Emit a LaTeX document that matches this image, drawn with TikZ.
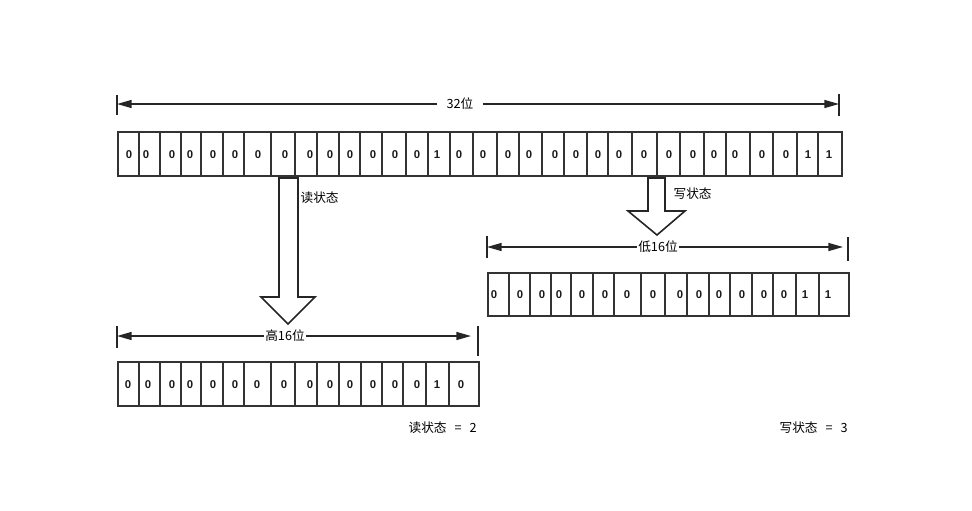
\documentclass[tikz,border=0pt]{standalone}
\usepackage{fontspec}
\setsansfont{Liberation Sans}
\newfontfamily\cjk{Noto Sans CJK SC}
\usetikzlibrary{arrows.meta}

\tikzset{
  bitcell/.style={draw=black!80, line width=1.3pt},
  bit/.style={font=\sffamily\bfseries\fontsize{8.5}{8.5}\selectfont, text=black!90, inner sep=0pt},
  lbl/.style={font=\cjk\fontsize{9.5}{10}\selectfont, text=black, inner sep=1pt},
  dim/.style={draw=black!85, line width=1.1pt, -{Triangle[length=11pt,width=6pt]}},
  tick/.style={draw=black!85, line width=1.1pt},
  blockarrow/.style={draw=black!85, line width=1.2pt, fill=white, line join=miter},
}

\begin{document}
\begin{tikzpicture}[x=0.75pt, y=-0.75pt]
  \useasboundingbox (0,0) rectangle (972,511);

  % 32 bits
  \foreach \l/\r/\dx/\v [count=\i] in {118/139/129/0, 139/160/146/0, 160/181/172/0, 181/201/190/0,
      201/223/213/0, 223/244/235/0, 244/271/258/0, 271/295/285/0, 295/317/310/0, 317/339/330/0,
      339/360/350/0, 360/382/373/0, 382/406/395/0, 406/428/417/0, 428/450/437/1, 450/473/459/0,
      473/497/483/0, 497/519/508/0, 519/542/529/0, 542/564/555/0, 564/587/576/0, 587/608/598/0,
      608/632/619/0, 632/657/644/0, 657/680/669/0, 680/704/693/0, 704/726/714/0, 726/750/735/0,
      750/773/762/0, 773/797/786/0, 797/818/808/1, 818/842/829/1}{
    \draw[bitcell] (\l,132) rectangle (\r,176);
    \node[bit] (t\i) at (\dx,155) {\v};
  }

  % high 16
  \foreach \l/\r/\dx/\v [count=\i] in {118/139/128/0, 139/160/148/0, 160/181/172/0, 181/201/190/0,
      201/223/213/0, 223/244/235/0, 244/271/257/0, 271/295/284/0, 295/317/310/0, 317/339/330/0,
      339/361/350/0, 361/382/373/0, 382/403/395/0, 403/426/417/0, 426/449/437/1, 449/479/461/0}{
    \draw[bitcell] (\l,362) rectangle (\r,406);
    \node[bit] (h\i) at (\dx,385) {\v};
  }

  % low 16
  \foreach \l/\r/\dx/\v [count=\i] in {488/509/494/0, 509/530/520/0, 530/551/542/0, 551/571/559/0,
      571/593/582/0, 593/614/605/0, 614/641/627/0, 641/665/653/0, 665/687/680/0, 687/709/699/0,
      709/730/719/0, 730/752/742/0, 752/773/764/0, 773/796/784/0, 796/819/805/1, 819/849/828/1}{
    \draw[bitcell] (\l,273) rectangle (\r,316);
    \node[bit] (l\i) at (\dx,295) {\v};
  }

  % widths
  \node[lbl, inner xsep=7pt] (w32) at (460,104) {32位};
  \coordinate (w32l) at (117,104);
  \coordinate (w32r) at (839,104);
  \draw[tick] (117,95) -- (117,115);
  \draw[tick] (839,94) -- (839,116);
  \draw[dim] (w32.west) -- (w32l);
  \draw[dim] (w32.east) -- (w32r);

  \node[lbl] (wh) at (285,336) {高16位};
  \coordinate (whl) at (117,336);
  \coordinate (whr) at (471,336);
  \draw[tick] (117,326) -- (117,348);
  \draw[tick] (478,326) -- (478,356);
  \draw[dim] (wh.west) -- (whl);
  \draw[dim] (wh.east) -- (whr);

  \node[lbl] (wl) at (658,247) {低16位};
  \coordinate (wll) at (487,247);
  \coordinate (wlr) at (843,247);
  \draw[tick] (487,236) -- (487,258);
  \draw[tick] (848,237) -- (848,261);
  \draw[dim] (wl.west) -- (wll);
  \draw[dim] (wl.east) -- (wlr);

  % read / write
  \draw[blockarrow] (279,178) -- (298,178) -- (298,297) -- (315,297) -- (288,324)
      -- (261,297) -- (279,297) -- cycle;
  \node[lbl, anchor=west] (rd) at (299,198) {读状态};
  \draw[blockarrow] (648,178) -- (665,178) -- (665,211) -- (685,211) -- (657,235)
      -- (628,211) -- (648,211) -- cycle;
  \node[lbl, anchor=west] (wr) at (672,194) {写状态};

  \node[lbl, anchor=west] (rv) at (407,428) {读状态\hspace{6pt}=\hspace{6pt}2};
  \node[lbl, anchor=west] (wv) at (778,428) {写状态\hspace{6pt}=\hspace{6pt}3};
\end{tikzpicture}
\end{document}
